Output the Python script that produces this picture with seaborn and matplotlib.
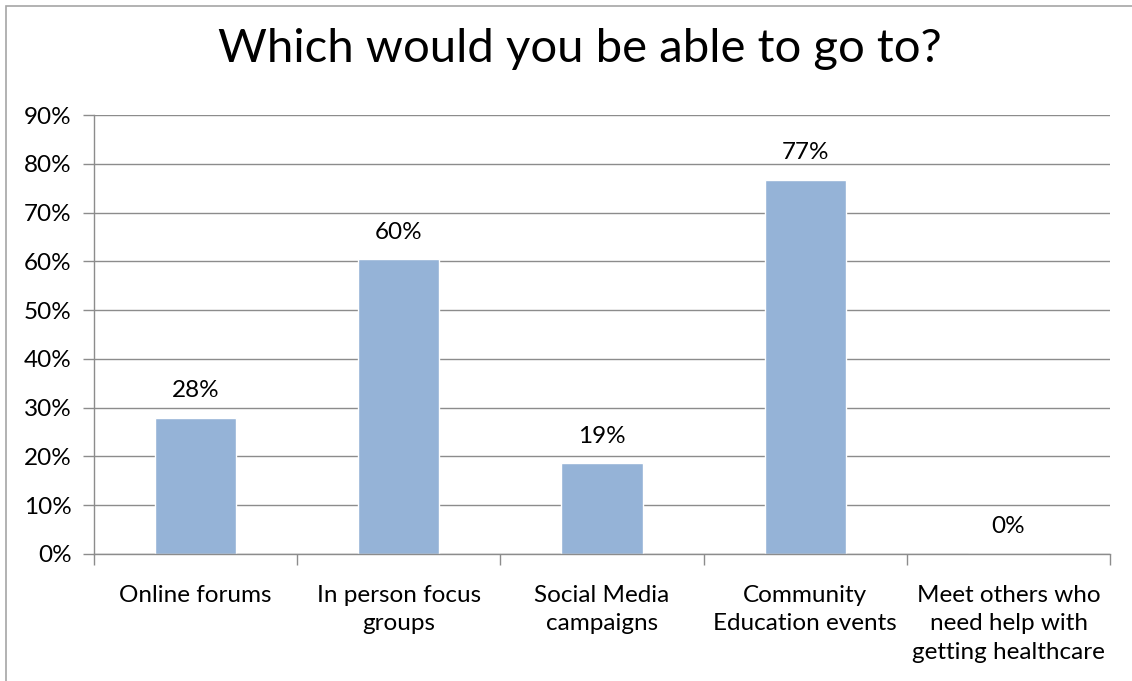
import matplotlib
matplotlib.use("Agg")
import matplotlib.pyplot as plt
import seaborn as sns
import pandas as pd
from matplotlib.patches import Rectangle
from matplotlib.ticker import FixedLocator, PercentFormatter

categories = ["Online forums", "In person focus\ngroups", "Social Media\ncampaigns",
              "Community\nEducation events", "Meet others who\nneed help with\ngetting healthcare"]
values = [0.279, 0.604, 0.186, 0.767, 0.0]
labels = ["28%", "60%", "19%", "77%", "0%"]

sns.set_theme(style="white")
plt.rcParams['font.family'] = ['Lato', 'DejaVu Sans']
plt.rcParams['text.color'] = 'black'
plt.rcParams['xtick.labelcolor'] = 'black'
plt.rcParams['ytick.labelcolor'] = 'black'

df = pd.DataFrame({'cat': categories, 'val': values})

fig = plt.figure(figsize=(11.32, 6.81), dpi=100)
ax = fig.add_axes([0.083, 0.1865, 0.8977, 0.6446])

sns.barplot(data=df, x='cat', y='val', color='#95B3D7', width=0.4, saturation=1, ax=ax)

ax.set_ylim(0, 0.9)
ax.set_xlim(-0.5, 4.5)
ax.yaxis.set_major_locator(FixedLocator([i / 10 for i in range(10)]))
ax.yaxis.set_major_formatter(PercentFormatter(1.0, decimals=0))
ax.grid(axis='y', color='#8c8c8c', linewidth=1)
ax.set_axisbelow(True)

# category boundaries get the tick marks, the centres get the labels
ax.set_xticks([i - 0.5 for i in range(6)])
ax.set_xticklabels([])
ax.set_xticks(range(5), minor=True)
ax.set_xticklabels(categories, minor=True, fontsize=17.5, linespacing=1.45)
ax.tick_params(axis='x', which='minor', length=0, pad=22)
ax.tick_params(axis='x', which='major', length=8, color='#8c8c8c', width=1, direction='out', bottom=True)
ax.tick_params(axis='y', length=8, color='#8c8c8c', width=1, direction='out', left=True, labelsize=17.5, pad=8)

for s in ['top', 'right']:
    ax.spines[s].set_visible(False)
for s in ['left', 'bottom']:
    ax.spines[s].set_color('#8c8c8c')
    ax.spines[s].set_linewidth(1)

ax.set_xlabel('')
ax.set_ylabel('')

for i, (v, t) in enumerate(zip(values, labels)):
    ax.annotate(t, (i, v), xytext=(0, 12), textcoords='offset points',
                ha='center', va='bottom', fontsize=17.5)

fig.text(0.512, 0.928, "Which would you be able to go to?", ha='center', va='center', fontsize=34)

fig.patches.append(Rectangle((6 / 1132, -0.05), 1.2, 1 - 6 / 681 + 0.05, transform=fig.transFigure,
                             fill=False, edgecolor='#a6a6a6', linewidth=1.2))

fig.savefig("out.png", dpi=100)
